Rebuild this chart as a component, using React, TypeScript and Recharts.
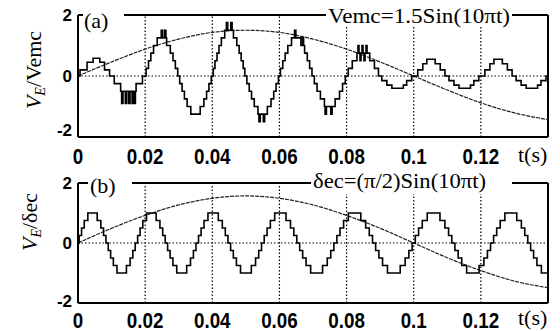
import { LineChart, Line, XAxis, YAxis, ReferenceLine } from "recharts";

const SANS = '"Liberation Sans", Arial, sans-serif';
const SERIF = '"Liberation Serif", "Times New Roman", serif';

const xTicks = [0, 0.02, 0.04, 0.06, 0.08, 0.1, 0.12];
const yTicks = [-2, 0, 2];

// reference waveforms, read every 10 ms
const envTimes = [0, 0.01, 0.02, 0.03, 0.04, 0.05, 0.06, 0.07, 0.08, 0.09, 0.1, 0.11, 0.12, 0.13, 0.14];
const vemc = [0, 0.46, 0.88, 1.21, 1.43, 1.5, 1.43, 1.21, 0.88, 0.46, 0, -0.46, -0.88, -1.21, -1.43];
const deltaEc = [0, 0.49, 0.92, 1.27, 1.49, 1.57, 1.49, 1.27, 0.92, 0.49, 0, -0.49, -0.92, -1.27, -1.49];

// (a) stepped V_E: switching instants (ms) and the level held after each
const stairATimesMs = [
  0, 0.6, 2.7, 4.5, 6.5, 7.9, 9.4,
  10.8, 12.7, 13.0, 13.4, 14.1, 14.5, 15.1, 15.5, 16.1, 16.5, 16.7, 17.1, 17.3, 19.2,
  20.3, 21.0, 21.7, 22.5, 23.6, 24.8, 25.2, 25.8, 26.2, 26.4, 27.5, 28.3, 29.0, 29.7,
  30.3, 31.0, 31.7, 32.5, 33.6, 36.4, 37.5, 38.3, 39.0, 39.7,
  40.3, 40.8, 41.4, 42.0, 42.7, 43.7, 44.2, 44.6, 45.5, 45.9, 46.3, 47.3, 48.0, 48.6, 49.2, 49.7,
  50.3, 51.0, 51.7, 52.5, 53.6, 53.9, 54.3, 55.2, 55.6, 56.4, 57.5, 58.3, 59.0, 59.7,
  60.3, 61.0, 61.7, 62.5, 63.6, 64.5, 64.9, 66.4, 66.9, 67.2, 67.5, 68.3, 69.0, 69.7,
  70.4, 71.2, 72.2, 73.4, 73.6, 74.0, 75.3, 75.7, 76.6, 77.9, 78.8, 79.6,
  80.5, 81.7, 83.1, 83.4, 83.7, 84.0, 84.3, 84.6, 84.9, 85.2, 85.5, 85.8, 86.1, 86.9, 88.3, 89.5,
  90.5, 92.0, 93.5, 96.9, 97.9, 99.4,
  101.2, 102.7, 103.9, 106.4, 107.9, 109.3,
  110.5, 112.0, 113.5, 116.9, 117.9, 119.4,
  121.2, 122.7, 123.9, 126.4, 127.9, 129.3,
  130.5, 132.0, 133.5, 136.9, 137.9, 139.4,
  140,
];
const stairALevels = [
  0, 0.2, 0.45, 0.58, 0.45, 0.2, 0,
  -0.25, -0.5, -0.9, -0.5, -0.9, -0.5, -0.9, -0.5, -0.9, -0.5, -0.9, -0.5, -0.25, 0,
  0.25, 0.5, 0.75, 1, 1.25, 1.5, 1.25, 1.5, 1.25, 1, 0.75, 0.5, 0.25, 0,
  -0.25, -0.5, -0.75, -1, -1.25, -1, -0.75, -0.5, -0.25, 0,
  0.25, 0.5, 0.75, 1, 1.25, 1.5, 1.75, 1.5, 1.75, 1.5, 1.25, 1, 0.75, 0.5, 0.25, 0,
  -0.25, -0.5, -0.75, -1, -1.25, -1.5, -1.25, -1.5, -1.25, -1, -0.75, -0.5, -0.25, 0,
  0.25, 0.5, 0.75, 1, 1.25, 1.5, 1.25, 1, 1.25, 1, 0.75, 0.5, 0.25, 0,
  -0.25, -0.5, -0.75, -1, -1.25, -1, -1.25, -1, -0.75, -0.5, -0.25, 0,
  0.25, 0.5, 0.75, 1, 0.75, 0.5, 0.75, 1, 0.75, 0.5, 0.75, 1, 0.75, 0.5, 0.25, 0,
  -0.15, -0.3, -0.4, -0.3, -0.15, 0,
  0.2, 0.4, 0.55, 0.4, 0.2, 0,
  -0.15, -0.3, -0.4, -0.3, -0.15, 0,
  0.2, 0.4, 0.55, 0.4, 0.2, 0,
  -0.15, -0.3, -0.4, -0.3, -0.15, 0,
  0,
];

// (b) stepped V_E: switching instants (ms); the level pattern repeats every cycle
const stairBTimesMs = [
  0.34, 1.06, 1.86, 2.93, 5.72, 6.8, 7.6, 8.32, 9.01, 9.72, 10.53, 11.61, 14.43, 15.52, 16.33, 17.05,
  17.76, 18.49, 19.31, 20.41, 23.28, 24.4, 25.23, 25.97, 26.69, 27.43, 28.27, 29.41, 32.37, 33.51, 34.38, 35.15,
  35.9, 36.67, 37.54, 38.71, 41.79, 42.99, 43.88, 44.67, 45.46, 46.27, 47.19, 48.41, 51.63, 52.89, 53.83, 54.67,
  55.47, 56.33, 57.3, 58.59, 61.97, 63.3, 64.29, 65.17, 66.03, 66.92, 67.93, 69.3, 72.85, 74.25, 75.29, 76.21,
  77.11, 78.04, 79.11, 80.53, 84.24, 85.69, 86.76, 87.73, 88.66, 89.63, 90.72, 92.18, 95.98, 97.45, 98.55, 99.53,
  100.47, 101.45, 102.55, 104.02, 107.82, 109.29, 110.38, 111.34, 112.27, 113.24, 114.31, 115.76, 119.47, 120.9, 121.96, 122.89,
  123.79, 124.71, 125.75, 127.15, 130.7, 132.07, 133.08, 133.97, 134.83, 135.71, 136.7, 138.03,
];
const stairBCycle = [0.25, 0.5, 0.75, 1, 0.75, 0.5, 0.25, 0, -0.25, -0.5, -0.75, -1, -0.75, -0.5, -0.25, 0];

const vemcData = envTimes.map((t, i) => ({ t, v: vemc[i] }));
const deltaData = envTimes.map((t, i) => ({ t, v: deltaEc[i] }));
const stairAData = stairATimesMs.map((ms, i) => ({ t: ms / 1000, v: stairALevels[i] }));
const stairBData = [
  { t: 0, v: 0 },
  ...stairBTimesMs.map((ms, i) => ({ t: ms / 1000, v: stairBCycle[i % stairBCycle.length] })),
  { t: 0.14, v: -1 },
];

const XTick = ({ x, y, payload }: any) => (
  <g transform={`translate(${x},${y})`}>
    <text transform="scale(0.94,1.1)" textAnchor="middle" dy="0.71em" fill="#000" fontSize={20} fontWeight={700} fontFamily={SANS}>
      {payload.value}
    </text>
  </g>
);

const YTick = ({ x, y, payload, shift }: any) => (
  <text x={x} y={y + (payload.value === -2 ? shift : 0)} dy="0.36em" textAnchor="end" fill="#000" fontSize={17} fontWeight={700} fontFamily={SANS}>
    {payload.value}
  </text>
);

function Panel({ top, height, margin, xAxisHeight, tickGap, stair, env, minusShift }: any) {
  const frame = { stroke: "#000", strokeWidth: 2 };
  return (
    <div style={{ position: "absolute", left: 0, top }}>
      <LineChart width={560} height={height} margin={margin}>
        <XAxis
          dataKey="t"
          type="number"
          domain={[0, 0.14]}
          ticks={xTicks}
          interval={0}
          height={xAxisHeight}
          tickSize={0}
          tickMargin={tickGap}
          tickLine={false}
          axisLine={frame}
          tick={<XTick />}
        />
        <YAxis
          type="number"
          domain={[-2, 2]}
          ticks={yTicks}
          interval={0}
          width={78}
          tickSize={0}
          tickMargin={6}
          tickLine={false}
          axisLine={frame}
          tick={(p: any) => <YTick {...p} shift={minusShift} />}
        />
        <ReferenceLine y={2} {...frame} />
        <ReferenceLine x={0.14} {...frame} />
        {xTicks.slice(1).map((x) => (
          <ReferenceLine key={x} x={x} stroke="#000" strokeWidth={1.2} strokeDasharray="1.5 2" />
        ))}
        <ReferenceLine y={0} stroke="#000" strokeWidth={1.2} strokeDasharray="1.5 2" />
        <Line data={env} dataKey="v" type="monotone" stroke="#222" strokeWidth={1.2} strokeDasharray="4 1" dot={false} isAnimationActive={false} />
        <Line data={stair} dataKey="v" type="stepAfter" stroke="#000" strokeWidth={1.6} dot={false} isAnimationActive={false} />
      </LineChart>
    </div>
  );
}

export default function App() {
  return (
    <div style={{ position: "absolute", left: 0, top: 0, width: 560, height: 331, background: "#fff", overflow: "hidden" }}>
      <Panel top={0} height={170} margin={{ top: 15, right: 12, bottom: 3, left: 0 }} xAxisHeight={30} tickGap={11} stair={stairAData} env={vemcData} minusShift={-7} />
      <Panel top={166} height={165} margin={{ top: 17, right: 12, bottom: 0, left: 0 }} xAxisHeight={28} tickGap={9} stair={stairBData} env={deltaData} minusShift={-2} />

      <svg width={560} height={331} style={{ position: "absolute", left: 0, top: 0, pointerEvents: "none" }}>
        {/* panel (a) labels over the frame */}
        <rect x={83} y={4} width={41} height={22} fill="#fff" />
        <text x={84} y={28} fontFamily={SERIF} fontSize={22} fill="#000">(a)</text>
        <rect x={326} y={4} width={186} height={22} fill="#fff" />
        <text x={328} y={23} fontFamily={SERIF} fontSize={22} fill="#000" textLength={182} lengthAdjust="spacingAndGlyphs">
          Vemc=1.5Sin(10πt)
        </text>
        <text x={518} y={162} fontFamily={SERIF} fontSize={22} fill="#000">t(s)</text>
        <text transform="translate(41,70) rotate(-90)" textAnchor="middle" fontFamily={SERIF} fontSize={22} fill="#000">
          <tspan fontStyle="italic">V</tspan>
          <tspan fontStyle="italic" fontSize={14} dy={4}>E</tspan>
          <tspan dy={-4}>/Vemc</tspan>
        </text>

        {/* panel (b) labels over the frame */}
        <rect x={88} y={172} width={44} height={26} fill="#fff" />
        <text x={90} y={193} fontFamily={SERIF} fontSize={22} fill="#000">(b)</text>
        <rect x={311} y={172} width={201} height={22} fill="#fff" />
        <text x={313} y={188} fontFamily={SERIF} fontSize={22} fill="#000" textLength={173} lengthAdjust="spacingAndGlyphs">
          δec=(π/2)Sin(10πt)
        </text>
        <text x={518} y={325} fontFamily={SERIF} fontSize={22} fill="#000">t(s)</text>
        <text transform="translate(37,222) rotate(-90)" textAnchor="middle" fontFamily={SERIF} fontSize={22} fill="#000">
          <tspan fontStyle="italic">V</tspan>
          <tspan fontStyle="italic" fontSize={14} dy={4}>E</tspan>
          <tspan dy={-4}>/δec</tspan>
        </text>
      </svg>
    </div>
  );
}
